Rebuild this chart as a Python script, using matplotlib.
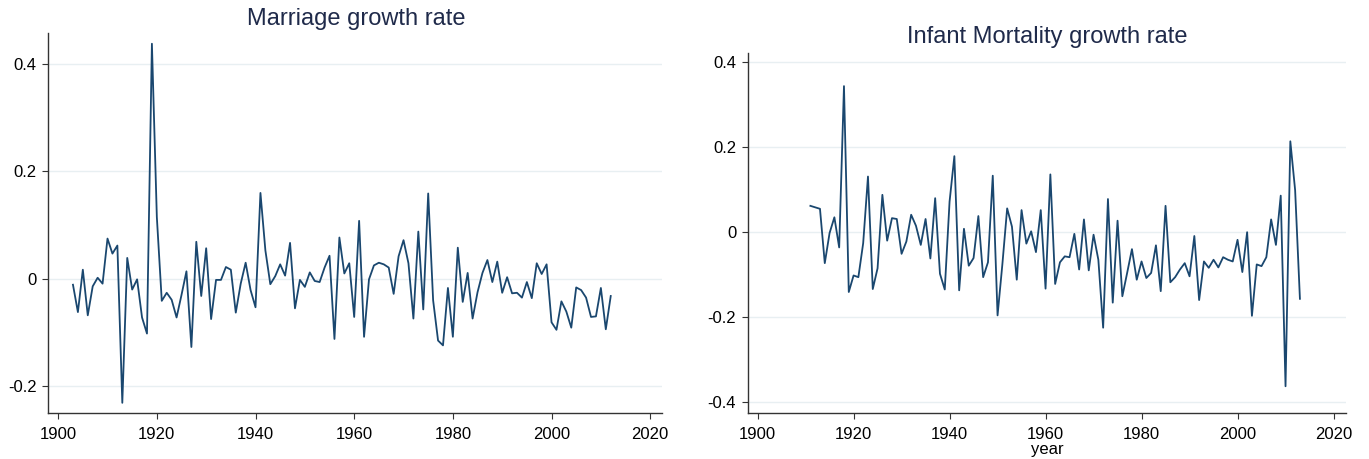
import matplotlib
matplotlib.use("Agg")
import matplotlib.pyplot as plt
import numpy as np

# marriage growth rate, annual 1903-2012
marriage_years = list(range(1903, 2013))
marriage_rate = [
    -0.011, -0.062, 0.017, -0.068, -0.014, 0.002, -0.009, 0.075, 0.047, 0.062,
    -0.231, 0.039, -0.020, -0.001, -0.072, -0.102, 0.438, 0.115, -0.041, -0.026,
    -0.039, -0.072, -0.030, 0.014, -0.127, 0.069, -0.032, 0.057, -0.075, -0.002,
    -0.002, 0.022, 0.017, -0.063, -0.009, 0.030, -0.021, -0.053, 0.160, 0.053,
    -0.010, 0.005, 0.027, 0.006, 0.067, -0.055, -0.002, -0.015, 0.012, -0.004,
    -0.006, 0.021, 0.043, -0.112, 0.077, 0.010, 0.029, -0.071, 0.108, -0.108,
    -0.001, 0.025, 0.030, 0.027, 0.021, -0.028, 0.042, 0.072, 0.029, -0.074,
    0.088, -0.057, 0.159, -0.040, -0.115, -0.124, -0.017, -0.108, 0.058, -0.043,
    0.011, -0.074, -0.025, 0.011, 0.035, -0.006, 0.032, -0.026, 0.003, -0.027,
    -0.026, -0.035, -0.006, -0.036, 0.029, 0.009, 0.027, -0.081, -0.095, -0.042,
    -0.061, -0.091, -0.016, -0.021, -0.035, -0.071, -0.070, -0.017, -0.094, -0.032,
]

# infant mortality growth rate, 1911 then 1913-2013
infant_years = [1911] + list(range(1913, 2014))
infant_rate = [
    0.062, 0.055, -0.073, -0.002, 0.035, -0.036, 0.344, -0.141, -0.102, -0.106,
    -0.026, 0.131, -0.134, -0.085, 0.088, -0.020, 0.033, 0.031, -0.051, -0.022,
    0.041, 0.015, -0.030, 0.031, -0.062, 0.080, -0.098, -0.135, 0.072, 0.179,
    -0.137, 0.008, -0.079, -0.061, 0.038, -0.106, -0.071, 0.133, -0.196, -0.076,
    0.056, 0.013, -0.112, 0.052, -0.027, 0.002, -0.047, 0.052, -0.133, 0.136,
    -0.122, -0.071, -0.057, -0.059, -0.004, -0.088, 0.030, -0.090, -0.006, -0.065,
    -0.225, 0.078, -0.166, 0.027, -0.151, -0.096, -0.040, -0.112, -0.069, -0.108,
    -0.096, -0.031, -0.139, 0.062, -0.118, -0.106, -0.088, -0.073, -0.104, -0.009,
    -0.160, -0.069, -0.084, -0.065, -0.083, -0.059, -0.065, -0.069, -0.018, -0.094,
    0.000, -0.197, -0.076, -0.080, -0.059, 0.030, -0.030, 0.086, -0.363, 0.214,
    0.099, -0.157,
]

x_ticks = [1900, 1920, 1940, 1960, 1980, 2000, 2020]
marriage_yticks = [-0.2, 0, 0.2, 0.4]
infant_yticks = [-0.4, -0.2, 0, 0.2, 0.4]

LINE = "#1a476f"
GRID = "#e8eff2"
TITLE = "#1f2a4a"

plt.rcParams["font.family"] = ["Liberation Sans", "DejaVu Sans"]


def fmt(v):
    return "0" if v == 0 else f"{v:g}"


def style_axis(ax, yticks, ylim):
    for s in ("top", "right"):
        ax.spines[s].set_visible(False)
    for s in ("left", "bottom"):
        ax.spines[s].set_color("#333333")
        ax.spines[s].set_linewidth(1.0)
    ax.set_xlim(1897.95, 2022.4)
    ax.set_ylim(*ylim)
    ax.set_xticks(x_ticks)
    ax.set_yticks(yticks)
    ax.set_yticklabels([fmt(v) for v in yticks])
    ax.tick_params(axis="both", direction="out", length=4.3, width=0.8,
                   color="#333333", labelsize=12, pad=4)
    ax.tick_params(axis="x", pad=6)
    ax.grid(axis="y", color=GRID, linewidth=1.0)
    ax.set_axisbelow(True)


fig = plt.figure(figsize=(13.69, 4.59), dpi=100)

ax1 = fig.add_axes([0.0351, 0.1002, 0.4485, 0.8279])
ax1.plot(marriage_years, marriage_rate, color=LINE, linewidth=1.3)
style_axis(ax1, marriage_yticks, (-0.250, 0.458))
fig.text(0.260, 0.9586, "Marriage growth rate", ha="center", va="center",
         fontsize=17, color=TITLE)

ax2 = fig.add_axes([0.5462, 0.1002, 0.4370, 0.7843])
ax2.plot(infant_years, infant_rate, color=LINE, linewidth=1.3)
style_axis(ax2, infant_yticks, (-0.426, 0.422))
ax2.set_xlim(1897.95, 2022.6)
ax2.set_xlabel("year", fontsize=12, labelpad=0)
fig.text(0.765, 0.920, "Infant Mortality growth rate", ha="center",
         va="center", fontsize=17, color=TITLE)

fig.savefig("out.png", dpi=100, facecolor="white")
